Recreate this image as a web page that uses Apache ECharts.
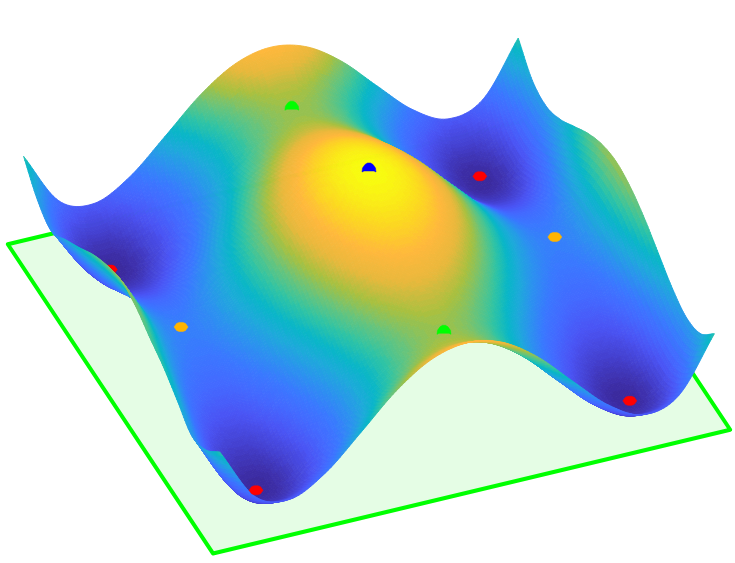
<!DOCTYPE html>
<html><head><meta charset="utf-8">
<style>html,body{margin:0;padding:0;background:#fff}#c{width:735px;height:563px}</style>
<script src="https://cdn.jsdelivr.net/npm/echarts@6/dist/echarts.min.js"></script>
</head><body><div id="c"></div>
<script>
// Surface heights, one row per y value (front to back)
const xValues = [-3.5,-3,-2.5,-2,-1.5,-1,-0.5,0,0.5,1,1.5,2,2.5,3,3.5];
const yValues = [-3.5,-3,-2.5,-2,-1.5,-1,-0.5,0,0.5,1,1.5,2,2.5,3,3.5];
const heights = [
 [91,38,27,45,77,110,133,141,133,110,77,45,27,38,91],
 [72,17,6,24,56,89,112,120,112,89,56,24,6,17,70],
 [65,12,1,19,51,84,107,115,107,84,51,19,1,12,65],
 [78,20,9,27,59,92,115,123,115,92,59,27,9,20,73],
 [91,34,23,41,73,106,129,137,129,106,73,41,23,34,87],
 [100,48,37,55,87,120,143,151,143,120,87,55,37,48,101],
 [110,58,47,65,97,130,153,161,153,130,97,65,47,58,111],
 [114,62,51,69,101,134,157,165,157,134,101,69,51,62,115],
 [108,58,47,65,97,130,153,161,153,130,97,65,47,58,111],
 [98,48,37,55,87,120,143,151,143,120,87,55,37,48,101],
 [84,34,23,41,73,106,129,137,129,106,73,41,23,34,87],
 [71,20,9,27,59,92,115,123,115,92,59,27,9,20,73],
 [58,12,1,19,51,84,107,115,107,84,51,19,1,12,65],
 [68,17,6,24,56,89,112,120,112,89,56,24,6,17,70],
 [91,38,27,45,77,110,133,141,133,110,77,45,27,38,91]
];
// Critical points: [x, y, height]
const minima = [[-2.63,-2.6,0],[2.66,-2.6,0],[2.6,2.6,6]];
const hiddenMinimum = [-2.63,2.6,1];
const maxima = [[0,0,168]];
const saddlesA = [[-0.06,2.6,121],[0.03,-2.6,115]];
const saddlesB = [[-2.66,0,54],[2.63,0,54.5]];
const planeExtent = 3.66;
const heightMax = 165;
const colorStops = ['#3b2a9e','#4440d0','#4a54f4','#4468ff','#3a78ff','#2c90f0','#1fa8dc','#08b6c8','#30c4a4','#68c47c','#a8c040','#e8b83c','#ffb83c','#fcd820','#f8fa10'];

const project = (x, y, z) => [369 + 70.66*x - 28.03*y, 336 - 16.9*x - 42.24*y - z];
const SUB = 12, LEVELS = 96, nx = xValues.length, ny = yValues.length;

function cr(p0,p1,p2,p3,t){
  return 0.5*((2*p1)+(-p0+p2)*t+(2*p0-5*p1+4*p2-p3)*t*t+(-p0+3*p1-3*p2+p3)*t*t*t);
}
function H(i,j){
  if(i<0) return 2*H(0,j)-H(1,j);
  if(i>=nx) return 2*H(nx-1,j)-H(nx-2,j);
  if(j<0) return 2*H(i,0)-H(i,1);
  if(j>=ny) return 2*H(i,ny-1)-H(i,ny-2);
  return heights[j][i];
}
function surf(i,j,s,t){
  const r=[];
  for(let k=-1;k<=2;k++) r.push(cr(H(i-1,j+k),H(i,j+k),H(i+1,j+k),H(i+2,j+k),s));
  return cr(r[0],r[1],r[2],r[3],t);
}
function colorOf(z){
  const lv=Math.max(0,Math.min(LEVELS-1,Math.floor(z/heightMax*LEVELS)));
  return echarts.color.lerp(lv/(LEVELS-1),colorStops);
}

// painter's order: far cells first; the hidden minimum sits behind the nearer fold
const items=[];
for(let j=ny-2;j>=0;j--){
  for(let i=nx-2;i>=0;i--){
    items.push({cell:[i,j]});
    if(hiddenMinimum[0]>=xValues[i]&&hiddenMinimum[0]<xValues[i+1]&&hiddenMinimum[1]>=yValues[j]&&hiddenMinimum[1]<yValues[j+1])
      items.push({marker:{p:hiddenMinimum,color:'#ff0000',dome:false}});
  }
}
const markerList=[];
minima.forEach(m=>markerList.push({p:m,color:'#ff0000',dome:false}));
maxima.forEach(m=>markerList.push({p:m,color:'#0000ff',dome:true}));
saddlesA.forEach(m=>markerList.push({p:m,color:'#00ff00',dome:true}));
saddlesB.forEach(m=>markerList.push({p:m,color:'#ffb400',dome:false}));

function markerShape(m,api){
  const c=api.coord(project(m.p[0],m.p[1],m.p[2]));
  const pts=m.dome
    ? [[-7,4],[-6.5,0],[-4,-3.5],[-1.5,-5],[1.5,-5],[4,-3.5],[6.5,0],[7,4],[5,3],[-5,3]]
    : [[-7,0],[-4.5,-3.5],[-2,-4.5],[2,-4.5],[4.5,-3.5],[7,0],[4.5,3.5],[2,4.5],[-2,4.5],[-4.5,3.5]];
  return {type:'polygon',shape:{points:pts.map(q=>[c[0]+q[0],c[1]+q[1]])},style:{fill:m.color,stroke:m.color,lineWidth:0.5}};
}
function renderItem(params,api){
  const it=items[params.dataIndex];
  if(it.marker) return markerShape(it.marker,api);
  const [i,j]=it.cell, children=[];
  const dx=xValues[i+1]-xValues[i], dy=yValues[j+1]-yValues[j];
  const grid=[];
  for(let b=0;b<=SUB;b++){
    const row=[];
    for(let a=0;a<=SUB;a++){
      const s=a/SUB,t=b/SUB,z=surf(i,j,s,t);
      row.push({z,c:api.coord(project(xValues[i]+s*dx,yValues[j]+t*dy,z))});
    }
    grid.push(row);
  }
  for(let b=SUB-1;b>=0;b--){
    for(let a=SUB-1;a>=0;a--){
      const q=[grid[b][a],grid[b][a+1],grid[b+1][a+1],grid[b+1][a]];
      const col=colorOf((q[0].z+q[1].z+q[2].z+q[3].z)/4);
      children.push({type:'polygon',shape:{points:q.map(o=>o.c)},style:{fill:col,stroke:col,lineWidth:0.9}});
    }
  }
  return {type:'group',children};
}

const e=planeExtent;
const planeData=[[-e,-e],[e,-e],[e,e],[-e,e]];
const chart=echarts.init(document.getElementById('c'),null,{renderer:'canvas'});
chart.setOption({
  animation:false,
  backgroundColor:'#ffffff',
  grid:{left:0,right:0,top:0,bottom:0},
  xAxis:{type:'value',min:0,max:735,show:false},
  yAxis:{type:'value',min:0,max:563,inverse:true,show:false},
  tooltip:{show:false},
  series:[
    {type:'custom',coordinateSystem:'cartesian2d',silent:true,clip:false,data:[0],z:1,
     renderItem:(p,api)=>({type:'polygon',
       shape:{points:planeData.map(q=>api.coord(project(q[0],q[1],-1)))},
       style:{fill:'#e5fde5',stroke:'#00ff00',lineWidth:4,lineJoin:'round'}})},
    {type:'custom',coordinateSystem:'cartesian2d',silent:true,clip:false,progressive:0,z:2,
     data:items.map((_,k)=>k),renderItem},
    {type:'custom',coordinateSystem:'cartesian2d',silent:true,clip:false,z:3,
     data:markerList.map((_,k)=>k),renderItem:(p,api)=>markerShape(markerList[p.dataIndex],api)}
  ]
});
</script></body></html>
